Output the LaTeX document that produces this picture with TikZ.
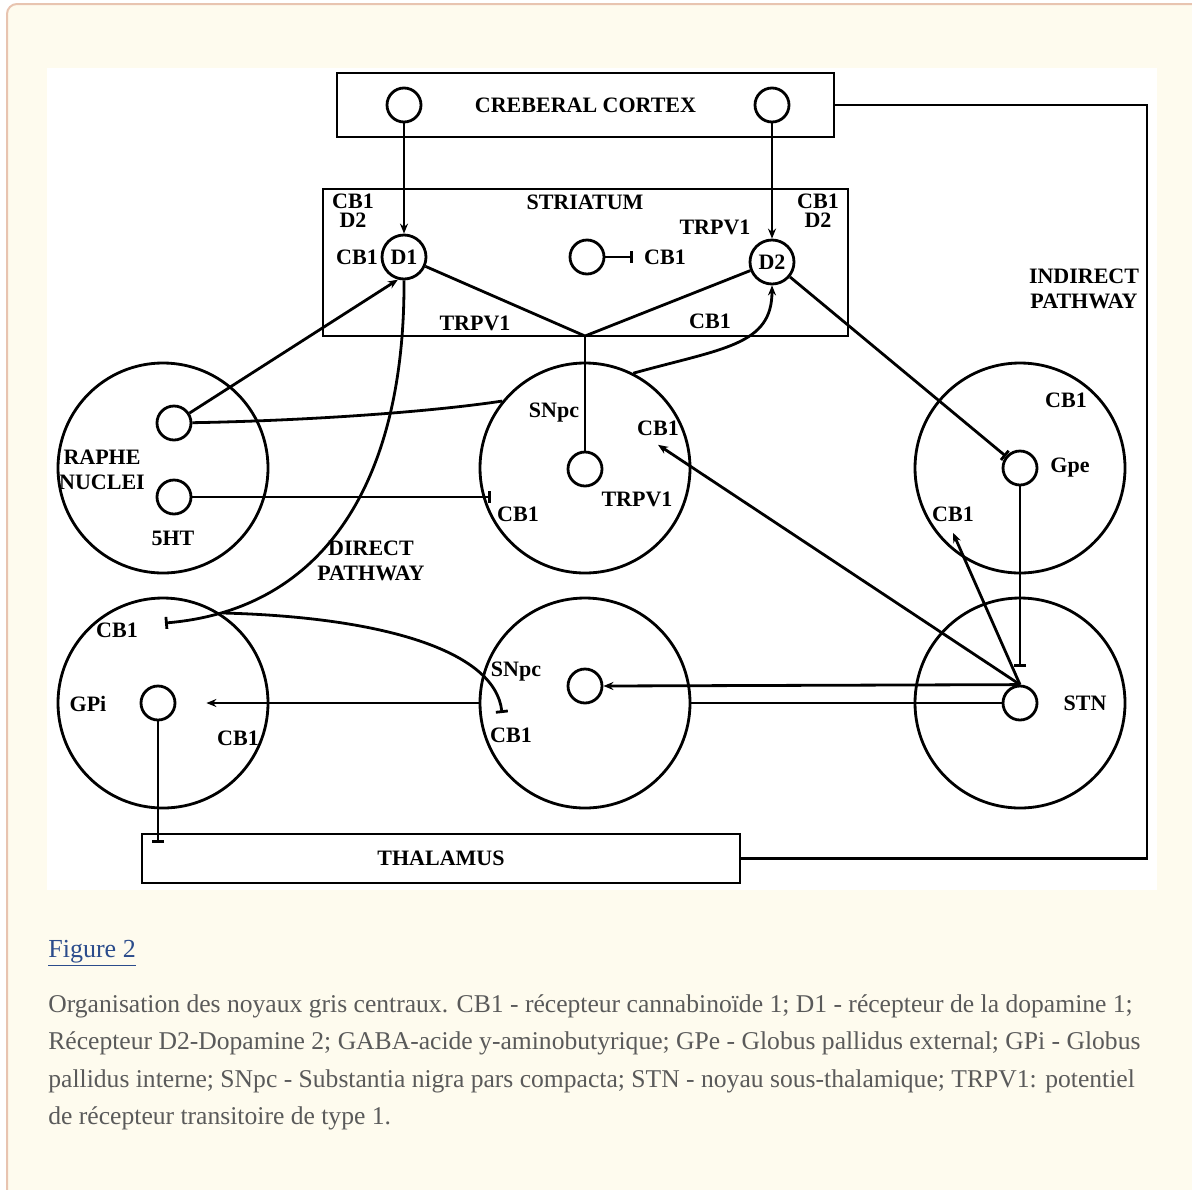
\documentclass[tikz,border=0pt]{standalone}
\usepackage{fontspec}
\setmainfont{Liberation Serif}
\usetikzlibrary{arrows.meta}
\definecolor{panel}{HTML}{FEFBEE}
\definecolor{panelline}{HTML}{E8C4B0}
\definecolor{linkblue}{HTML}{2B4C8C}
\definecolor{captext}{HTML}{5A5A5A}

\begin{document}
\begin{tikzpicture}[x=0.5pt,y=-0.5pt,line width=1.4pt,
  >={Stealth[length=5pt,width=4pt]},
  inh/.style={-{Bar[width=6pt]}},
  lbl/.style={font=\bfseries\fontsize{11}{12.5}\selectfont,inner sep=1pt},
  captxt/.style={anchor=base west,inner sep=0pt,text=captext,font=\fontsize{12.8}{15}\selectfont},
  nucleus/.style={circle,draw,inner sep=0pt,minimum size=105pt},
  cell/.style={circle,draw,inner sep=0pt,minimum size=17pt},
  recep/.style={circle,draw,inner sep=0pt,minimum size=22pt,lbl},
  region/.style={draw,inner sep=0pt,lbl}]
\useasboundingbox (0,0) rectangle (1192,1189);
\fill[white] (0,0) rectangle (1192,1189);
\filldraw[fill=panel,draw=panelline,line width=1pt,rounded corners=5pt] (7,1220) -- (7,4) -- (1220,4) -- (1220,1220) -- cycle;
\fill[white] (47,68) rectangle (1157,890);

\node[region,minimum width=248.5pt,minimum height=32pt] (cortex) at (585.5,105) {CREBERAL CORTEX};
\node[region,minimum width=262.5pt,minimum height=73.5pt] (striatum) at (585.5,262.5) {};
\node[region,minimum width=299pt,minimum height=24.5pt] (thalamus) at (441,858.5) {THALAMUS};
\coordinate (rside) at (1147,480);

\node[cell] (cx1) at (404,105) {};
\node[cell] (cx2) at (772,105) {};
\node[recep] (d1) at (404,257) {D1};
\node[recep] (d2) at (772,262) {D2};
\node[cell] (stc) at (587,257) {};
\node[lbl] (stcb) at (665,257) {CB1};
\node[lbl] at (585,202) {STRIATUM};
\node[lbl,align=center] at (353,211) {CB1\\[-3pt]D2};
\node[lbl,align=center] at (818,211) {CB1\\[-3pt]D2};
\node[lbl] at (715,227) {TRPV1};
\node[lbl] at (357,257) {CB1};
\node[lbl] at (475,323) {TRPV1};
\node[lbl] at (710,321) {CB1};
\coordinate (jn) at (585,336);

\node[nucleus] (raphe) at (163,468) {};
\node[cell] (ra1) at (174,423) {};
\node[cell] (ra2) at (174,497) {};
\node[lbl,align=center] at (102,470) {RAPHE\\NUCLEI};
\node[lbl] at (173,538) {5HT};

\node[nucleus] (sn1) at (585,468) {};
\node[cell] (sn1c) at (585,469) {};
\node[lbl] at (554,413) {SNpc};
\node[lbl] (sn1cb) at (658,428) {CB1};
\node[lbl] at (637,499) {TRPV1};
\node[lbl] at (518,514) {CB1};

\node[nucleus] (gpe) at (1020,468) {};
\node[cell] (gpec) at (1020,468) {};
\node[lbl] at (1066,400) {CB1};
\node[lbl] at (1070,468) {Gpe};
\node[lbl] (gpecb) at (953,514) {CB1};

\node[nucleus] (gpi) at (163,703) {};
\node[cell] (gpic) at (158,703) {};
\node[lbl] at (117,630) {CB1};
\node[lbl] at (88,704) {GPi};
\node[lbl] at (238,738) {CB1};
\coordinate (gpin) at (165,623);
\coordinate (split) at (223,613);

\node[nucleus] (sn2) at (585,703) {};
\node[cell] (sn2c) at (585,686) {};
\node[lbl] at (516,672) {SNpc};
\node[lbl] at (511,735) {CB1};
\coordinate (sn2in) at (502,713);

\node[nucleus] (stn) at (1020,703) {};
\node[cell] (stnc) at (1020,703) {};
\node[lbl] at (1085,703) {STN};

\node[lbl,align=center] at (371,561) {DIRECT\\PATHWAY};
\node[lbl,align=center] at (1084,289) {INDIRECT\\PATHWAY};

\draw[->] (cx1) -- (d1);
\draw[->] (cx2) -- (d2);
\draw (d1) -- (jn) -- (d2);
\draw (jn) -- (sn1c);
\draw[inh] (stc) -- ([xshift=-4pt]stcb.west);
\draw[->] (ra1) -- (d1.255);
\draw (ra1) .. controls +(120,-2) and +(-80,12) .. (sn1.141);
\draw[->] (sn1.63) .. controls +(90,-25) and +(0,60) .. (d2.south);
\draw[inh] (ra2) -- ([xshift=6pt]ra2 -| sn1.west);
\draw[inh] (d1.south) .. controls +(1,190) and +(167,-14) .. (gpin);
\draw[inh] (split) .. controls +(157,4) and +(-7,-63) .. (sn2in);
\draw[->] (sn2.west) -- ([xshift=15pt]gpic.east);
\draw[inh] (gpic) -- ([yshift=-5pt]gpic |- thalamus.north);
\draw (cortex.east) -| (rside) |- (thalamus.east);
\draw[inh] (d2) -- (gpec);
\draw[inh] (gpec) -- ([yshift=9pt]stnc.north);
\draw[->] (stnc.north) -- ([yshift=-3pt]sn1cb.south);
\draw[->] (stnc.north) -- ([yshift=-4pt]gpecb.south);
\draw[->] (stnc.north) -- (sn2c.east);
\draw (stnc.west) -- (sn2.east);

\node[anchor=base west,inner sep=0pt,text=linkblue,font=\fontsize{13}{15}\selectfont] at (47,957) {\underline{Figure 2}};
\node[captxt] at (47,1012) {Organisation des noyaux gris centraux. CB1 - récepteur cannabinoïde 1; D1 - récepteur de la dopamine 1;};
\node[captxt] at (47,1049) {Récepteur D2-Dopamine 2; GABA-acide y-aminobutyrique; GPe - Globus pallidus external; GPi - Globus};
\node[captxt] at (47,1087) {pallidus interne; SNpc - Substantia nigra pars compacta; STN - noyau sous-thalamique; TRPV1: potentiel};
\node[captxt] at (47,1124) {de récepteur transitoire de type 1.};
\end{tikzpicture}
\end{document}
